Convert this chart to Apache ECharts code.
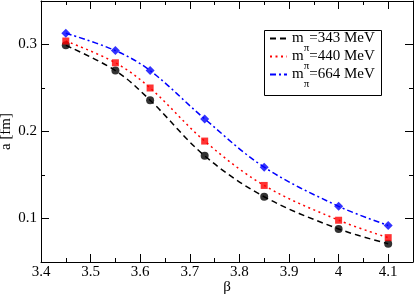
<!DOCTYPE html>
<html><head><meta charset="utf-8">
<script src="https://cdn.jsdelivr.net/npm/echarts@6/dist/echarts.min.js"></script>
<style>html,body{margin:0;padding:0;background:#fff}#c{width:415px;height:297px}</style>
</head><body><div id="c"></div>
<script>
// ---- data ----
const beta = [3.45, 3.55, 3.62, 3.73, 3.85, 4.0, 4.1];
const a343 = [0.299, 0.270, 0.236, 0.172, 0.125, 0.088, 0.071];
const a440 = [0.304, 0.279, 0.250, 0.189, 0.138, 0.098, 0.078];
const a664 = [0.313, 0.293, 0.270, 0.2145, 0.159, 0.114, 0.092];
const pionMasses = ['343', '440', '664'];
const xTickValues = [3.4, 3.5, 3.6, 3.7, 3.8, 3.9, 4.0, 4.1];
const xTickLabels = ['3.4', '3.5', '3.6', '3.7', '3.8', '3.9', '4', '4.1'];
const xMinorValues = [3.45, 3.55, 3.65, 3.75, 3.85, 3.95, 4.05];
const yTickValues = [0.1, 0.2, 0.3];
const yTickLabels = ['0.1', '0.2', '0.3'];
const yMinorValues = [0.15, 0.25];

const FONT = "'Liberation Serif', 'Times New Roman', serif";
const X_MIN = 3.4, X_MAX = 4.15, Y_MIN = 0.05, Y_MAX = 0.35;

function lbl(values, labels) {
  return function (v) {
    for (let i = 0; i < values.length; i++) if (Math.abs(values[i] - v) < 1e-6) return labels[i];
    return '';
  };
}
function axis(kind, pos, tickVals, tickLen, withLabels, withLine, extra) {
  const isX = kind === 'x';
  const o = {
    type: 'value', position: pos,
    min: isX ? X_MIN : Y_MIN, max: isX ? X_MAX : Y_MAX, interval: 0.05,
    axisLine: { show: withLine, onZero: false, lineStyle: { color: '#000', width: 1 } },
    axisTick: { show: true, inside: true, length: tickLen, customValues: tickVals, lineStyle: { color: '#000', width: 1 } },
    axisLabel: withLabels ? {
      show: true, customValues: tickVals, color: '#000', fontFamily: FONT, fontSize: 15,
      margin: isX ? 3 : 4,
      formatter: isX ? lbl(xTickValues, xTickLabels) : lbl(yTickValues, yTickLabels)
    } : { show: false },
    splitLine: { show: false }
  };
  return Object.assign(o, extra || {});
}

const lineColors = ['#000000', '#ff0000', '#0000ff'];
const lineTypes = [[6, 4], [2, 3.5], [6, 3, 2, 3]];
const values = [a343, a440, a664];
const symbols = ['circle', 'rect', 'diamond'];
const symbolSizes = [8, 7, 9];

const series = [];
values.forEach((arr, k) => {
  series.push({
    name: pionMasses[k], type: 'line', xAxisIndex: 0, yAxisIndex: 0,
    data: beta.map((b, i) => [b, arr[i]]), smooth: 0.35, symbol: 'none',
    lineStyle: { color: lineColors[k], width: 1.5, type: lineTypes[k] },
    itemStyle: { color: lineColors[k] }, z: 2
  });
});
values.forEach((arr, k) => {
  series.push({
    name: 'pts' + pionMasses[k], type: 'scatter', xAxisIndex: 0, yAxisIndex: 0,
    data: beta.map((b, i) => [b, arr[i]]), symbol: symbols[k], symbolSize: symbolSizes[k],
    itemStyle: { color: lineColors[k] }, z: 3
  });
});

const chart = echarts.init(document.getElementById('c'), null, { renderer: 'canvas' });
chart.setOption({
  animation: false,
  backgroundColor: '#fff',
  grid: { left: 41, right: 2, top: 1, bottom: 35, containLabel: false, outerBoundsMode: 'none' },
  xAxis: [
    axis('x', 'bottom', xTickValues, 8, true, true, { name: 'β', nameLocation: 'middle', nameGap: 18, nameMoveOverlap: false, nameTextStyle: { color: '#000', fontFamily: FONT, fontSize: 15 } }),
    axis('x', 'bottom', xMinorValues, 4, false, false),
    axis('x', 'top', xTickValues, 8, false, true),
    axis('x', 'top', xMinorValues, 4, false, false)
  ],
  yAxis: [
    axis('y', 'left', yTickValues, 8, true, true, { name: 'a [fm]', nameLocation: 'middle', nameGap: 27, nameMoveOverlap: false, nameTextStyle: { color: '#000', fontFamily: FONT, fontSize: 15 } }),
    axis('y', 'left', yMinorValues, 4, false, false),
    axis('y', 'right', yTickValues, 8, false, true),
    axis('y', 'right', yMinorValues, 4, false, false)
  ],
  legend: {
    data: pionMasses, orient: 'vertical', left: 269, top: 23, padding: 0,
    itemWidth: 17, itemHeight: 10, itemGap: -13,
    itemStyle: { opacity: 0 },
    formatter: n => '{a|m}{s|π}{a|=' + n + ' MeV}',
    textStyle: {
      color: '#000', fontFamily: FONT, fontSize: 15,
      rich: {
        a: { fontFamily: FONT, fontSize: 15, lineHeight: 15, color: '#000' },
        s: { fontFamily: FONT, fontSize: 11, lineHeight: 11, padding: [20, 0, 0, 0], color: '#000' }
      }
    }
  },
  graphic: [{
    type: 'rect', shape: { x: 264.5, y: 30.5, width: 117, height: 65 },
    style: { fill: 'none', stroke: '#000', lineWidth: 1 }, silent: true
  }],
  series: series
});
</script></body></html>
